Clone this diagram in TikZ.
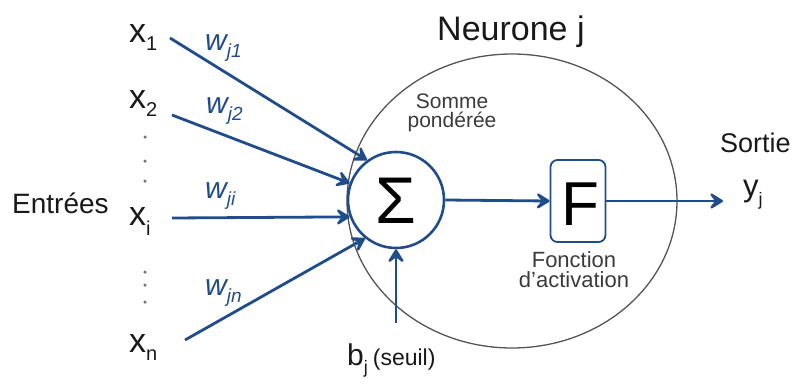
\documentclass[tikz,border=0pt]{standalone}
\usepackage{fontspec}
\setmainfont{Liberation Sans}
\usetikzlibrary{arrows.meta,shapes.geometric}
\definecolor{nblue}{RGB}{32,76,138}
\definecolor{ngray}{RGB}{85,85,85}
\definecolor{ntext}{RGB}{25,25,25}
\newcommand\fsz[1]{\fontsize{#1}{#1}\selectfont}
\newcommand\xsub[2]{x\raisebox{-#2}{\fsz{20}#1}}
\newcommand\wsub[1]{w\raisebox{-7pt}{\fsz{19}#1}}
\begin{document}
\begin{tikzpicture}[x=1pt,y=-1pt,
  lbl/.style={inner sep=0pt,anchor=base west,text=ntext},
  xlbl/.style={lbl,font=\fsz{34}},
  wlbl/.style={inner sep=0pt,anchor=base west,text=nblue,font=\fsz{30}\itshape},
  small/.style={inner sep=0pt,text=ntext!85!white,font=\fsz{21},align=center},
  conn/.style={draw=nblue,line width=2.8pt,-{Stealth[length=17pt,width=21pt,inset=8pt,round]}},
  dotc/.style={circle,fill=ntext!60!white,inner sep=0pt,minimum size=3.5pt}]
\useasboundingbox (0,0) rectangle (802,388);
% neuron body
\node[draw=ngray,line width=1.3pt,ellipse,minimum width=330pt,minimum height=294pt,inner sep=0pt] (body) at (512,201) {};
\node[lbl,font=\fsz{34}] (title) at (437,40) {Neurone j};
% sum
\node[circle,draw=nblue,line width=2.6pt,minimum size=96pt,inner sep=0pt,font=\fsz{66}] (sig) at (396,200) {};
\node[inner sep=0pt,font=\fsz{66},text=black] (sigsym) at (396,201) {Σ};
\node[small] (somme) at (452,113) {Somme\\[-2pt]pondérée};
% activation
\node[draw=nblue,line width=1.8pt,rounded corners=7pt,minimum width=55pt,minimum height=82pt,inner sep=0pt] (F) at (578,201) {};
\node[inner sep=0pt,font=\fsz{62},text=black] (Fsym) at (580,204) {F};
\node[small,font=\fsz{22}] (fonc) at (574,270) {Fonction\\[-2pt]d’activation};
% inputs
\node[lbl,font=\fsz{28}] (entrees) at (12,213) {Entrées};
\node[xlbl] (x1) at (129,42) {\xsub{1}{8pt}};
\node[xlbl] (x2) at (129,108) {\xsub{2}{8pt}};
\node[xlbl] (xi) at (129,225) {\xsub{i}{10pt}};
\node[xlbl] (xn) at (129,352) {\xsub{n}{8pt}};
\node[dotc] (d1) at (145,137) {};
\node[dotc] (d2) at (145,161) {};
\node[dotc] (d3) at (145,181) {};
\node[dotc] (d4) at (145,272) {};
\node[dotc] (d5) at (145,285) {};
\node[dotc] (d6) at (145,302) {};
\coordinate (s1) at (170,38);
\coordinate (s2) at (172,115);
\coordinate (si) at (172,218);
\coordinate (sn) at (185,340);
\draw[conn] (s1) -- (sig.126);
\draw[conn] (s2) -- (sig.160);
\draw[conn] (si) -- (sig.200);
\draw[conn] (sn) -- (sig.231);
\node[wlbl] (w1) at (205,50) {\wsub{j1}};
\node[wlbl] (w2) at (206,113) {\wsub{j2}};
\node[wlbl] (wi) at (205,198) {\wsub{ji}};
\node[wlbl] (wn) at (205,295) {\wsub{jn}};
% bias
\node[lbl,font=\fsz{30}] (b) at (347,365) {b\raisebox{-8pt}{\fsz{18}j}\,{\fsz{23}(seuil)}};
\coordinate (bs) at (396,323);
\draw[conn] (bs) -- (sig.south);
% flow
\draw[conn] (sig.east) -- (F.west);
\coordinate (out) at (723,201);
\draw[conn] (F.east) -- (out);
\node[lbl,font=\fsz{27}] (sortie) at (720,152) {Sortie};
\node[lbl,font=\fsz{31}] (y) at (743,196) {y\raisebox{-9pt}{\fsz{18}j}};
\end{tikzpicture}
\end{document}
